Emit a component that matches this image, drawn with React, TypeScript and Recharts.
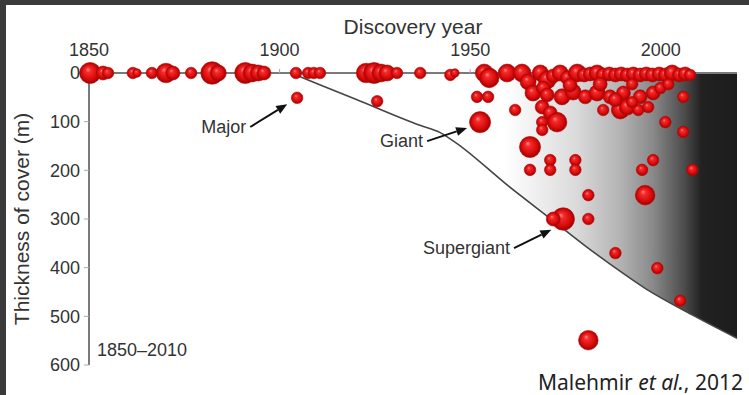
import {
    ComposedChart,
    Area,
    Scatter,
    XAxis,
    YAxis,
    ZAxis,
    ReferenceLine
} from "recharts";

// cover-thickness limit of exploration (discovery year vs. depth)
const coverYears = [1903, 1920, 1937, 1942, 1946, 1960, 1972, 1980, 1988, 1996, 2008, 2020];
const coverDepth = [0, 54, 108, 122, 142, 232, 305, 354, 400, 443, 496, 545];

// deposits: discovery year, depth of cover (m), relative size
const depositYears = [
    1850.3, 1853.7, 1855, 1861.5, 1862.6, 1866.5, 1870.2, 1872, 1876.8, 1882.3, 1883.9,
    1891, 1892.8, 1894.4, 1895.9, 1904.3, 1907.5, 1909, 1910.6, 1922.7, 1924.8, 1926.6,
    1928.2, 1930.8, 1936.9, 1944.8, 1946, 1953.7, 1955, 1959.7, 1963.6, 1965.2, 1968.4,
    1970.2, 1971.8, 1973.6, 1975.5, 1978.1, 1979.9, 1981.5, 1983.3, 1984.9, 1986.5,
    1988.1, 1989.6, 1991.2, 1992.8, 1994.6, 1996.2, 1997.8, 1999.6, 2001.2, 2003,
    2004.9, 2006.4, 2007.7,
    1966.5, 1969.2, 1970.2, 1974.1, 1977, 1980.2, 1983.3, 1986.7, 1990.2, 1994.6, 1998,
    1999.9, 1976.2, 1984.1, 1992.5, 2002, 1961.8, 1951.8, 1954.7, 1925.6, 1904.6, 1952.6,
    1968.9, 1971, 1968.9, 1968.9, 1972.8, 1965.7, 1971, 1971, 1965.7, 1977.6, 1977.6,
    1981, 1974.4, 1971.8, 1981, 1988.1, 1999.1, 2005.1, 1981, 1995.1, 1998, 1995.9,
    2008.3, 2005.9, 2001.2, 2005.9, 1984.9, 1989.4, 1991.2, 1994.1, 1996.7, 1992.5, 1988.1
];
const depositDepth = [
    0, 0, 0, 0, 0, 0, 0, 0, 0, 0, 0,
    0, 0, 0, 0, 0, 0, 0, 0, 0, 0, 0,
    0, 0, 0, 4, 0, 0, 10, 0, 0, 18, 0,
    14, 6, 0, 10, 0, 4, 2, 0, 4, 2,
    4, 2, 4, 2, 4, 2, 4, 2, 4, 0,
    4, 2, 4,
    41, 31, 45, 49, 39, 49, 41, 49, 41, 49, 41,
    31, 25, 23, 23, 23, 76, 49, 49, 58, 51, 101,
    70, 82, 101, 117, 101, 152, 179, 199, 199, 179, 199,
    251, 300, 300, 300, 370, 401, 468, 549, 199, 179, 251,
    199, 121, 101, 49, 76, 76, 70, 76, 70, 60, 55
];
const depositSize = [
    10, 6, 5, 5, 4, 5, 9, 6, 5, 11, 7,
    10, 8, 7, 6, 5, 5, 5, 5, 9, 10, 8,
    7, 5, 5, 5, 4, 8, 9, 8, 8, 7, 7,
    8, 6, 7, 6, 8, 6, 6, 7, 6, 6,
    6, 6, 6, 6, 6, 6, 6, 6, 6, 7,
    6, 6, 5,
    7, 6, 6, 7, 7, 6, 7, 6, 6, 6, 6,
    5, 6, 6, 5, 5, 5, 5, 5, 5, 5, 10,
    6, 6, 5, 5, 9, 10, 5, 5, 5, 5, 5,
    5, 11, 6, 5, 5, 5, 5, 9, 5, 5, 9,
    5, 5, 5, 5, 5, 8, 7, 5, 5, 5, 6
];

const xTicks = [1850, 1900, 1950, 2000];
const yTicks = [0, 100, 200, 300, 400, 500, 600];

const curveData = coverYears.map((year, i) => ({ year, depth: coverDepth[i] }));
const deposits = depositYears.map((year, i) => ({
    year,
    depth: depositDepth[i],
    size: depositSize[i]
}));

const font = "'Liberation Sans', Arial, Helvetica, sans-serif";

const Sphere = (props: any) => {
    const { cx, cy, width } = props;
    return (
        <circle
            cx={cx}
            cy={cy}
            r={width / 2}
            fill="url(#sphereFill)"
            stroke="#b80808"
            strokeWidth={0.6}
        />
    );
};

// arrow with its label at the tail
const arrowShape = (label: string) => (props: any) => {
    const { x1, y1, x2, y2 } = props;
    const ang = Math.atan2(y2 - y1, x2 - x1);
    const len = 11;
    const w = 4.5;
    const bx = x2 - len * Math.cos(ang);
    const by = y2 - len * Math.sin(ang);
    const p1 = `${bx + w * Math.sin(ang)},${by - w * Math.cos(ang)}`;
    const p2 = `${bx - w * Math.sin(ang)},${by + w * Math.cos(ang)}`;
    return (
        <g>
            <line x1={x1} y1={y1} x2={bx} y2={by} stroke="#111" strokeWidth={2} />
            <polygon points={`${x2},${y2} ${p1} ${p2}`} fill="#111" />
            <text
                x={x1 - 4}
                y={y1 + 6}
                textAnchor="end"
                fontSize={18}
                fontFamily={font}
                fill="#333"
            >
                {label}
            </text>
        </g>
    );
};

export default function App() {
    return (
        <div
            style={{
                position: "relative",
                width: 749,
                height: 395,
                background: "#3b3b3b",
                overflow: "hidden"
            }}
        >
            <style>{"body{margin:0}"}</style>
            <div
                style={{
                    position: "absolute",
                    left: 6,
                    top: 5,
                    right: 0,
                    bottom: 0,
                    background: "#fff"
                }}
            />
            <div style={{ position: "absolute", left: 0, top: 0 }}>
                <ComposedChart
                    width={749}
                    height={395}
                    data={curveData}
                    margin={{ top: 43, right: 12, left: 29, bottom: 30 }}
                >
                    <defs>
                        <radialGradient id="sphereFill" cx="50%" cy="50%" r="50%" fx="38%" fy="32%">
                            <stop offset="0%" stopColor="#ff8a8a" />
                            <stop offset="25%" stopColor="#f52a2a" />
                            <stop offset="70%" stopColor="#d80c0c" />
                            <stop offset="100%" stopColor="#a00000" />
                        </radialGradient>
                        <linearGradient id="coverFill" x1="0" y1="0" x2="1" y2="0">
                            <stop offset="0%" stopColor="#ffffff" />
                            <stop offset="48%" stopColor="#ffffff" />
                            <stop offset="64%" stopColor="#dadada" />
                            <stop offset="74%" stopColor="#b2b2b2" />
                            <stop offset="81%" stopColor="#8a8a8a" />
                            <stop offset="88%" stopColor="#4e4e4e" />
                            <stop offset="92%" stopColor="#222222" />
                            <stop offset="100%" stopColor="#1c1c1c" />
                        </linearGradient>
                    </defs>
                    <XAxis
                        dataKey="year"
                        type="number"
                        orientation="top"
                        domain={[1850, 2020]}
                        ticks={xTicks}
                        height={30}
                        tickSize={4}
                        tickMargin={13}
                        tick={{ fontSize: 18, fill: "#333", fontFamily: font }}
                        axisLine={{ stroke: "#7a7a7a", strokeWidth: 2 }}
                        tickLine={{ stroke: "#aaa" }}
                        label={{
                            value: "Discovery year",
                            position: "top",
                            offset: 9,
                            fontSize: 21,
                            fill: "#333",
                            fontFamily: font
                        }}
                    />
                    <XAxis
                        xAxisId="frame"
                        type="number"
                        orientation="bottom"
                        domain={[1850, 2020]}
                        height={0}
                        tick={false}
                        tickLine={false}
                        axisLine={{ stroke: "#7a7a7a", strokeWidth: 2 }}
                    />
                    <YAxis
                        type="number"
                        reversed
                        domain={[0, 600]}
                        ticks={yTicks}
                        width={60}
                        tickSize={5}
                        tickMargin={4}
                        tick={{ fontSize: 18, fill: "#333", fontFamily: font }}
                        axisLine={{ stroke: "#7a7a7a", strokeWidth: 2 }}
                        tickLine={{ stroke: "#aaa" }}
                        label={{
                            value: "Thickness of cover (m)",
                            angle: -90,
                            position: "insideLeft",
                            offset: -7,
                            fontSize: 21,
                            fill: "#333",
                            fontFamily: font,
                            style: { textAnchor: "middle" }
                        }}
                    />
                    <YAxis
                        yAxisId="frame"
                        type="number"
                        orientation="right"
                        reversed
                        domain={[0, 600]}
                        width={0}
                        tick={false}
                        tickLine={false}
                        axisLine={{ stroke: "#8a8a8a", strokeWidth: 2 }}
                    />
                    <ZAxis dataKey="size" type="number" domain={[4, 11]} range={[56, 400]} />
                    <Area
                        dataKey="depth"
                        type="monotone"
                        stroke="#454545"
                        strokeWidth={1.6}
                        fill="url(#coverFill)"
                        fillOpacity={1}
                        isAnimationActive={false}
                    />
                    <ReferenceLine
                        segment={[{ x: 1892.3, y: 111 }, { x: 1902, y: 64 }]}
                        shape={arrowShape("Major")}
                    />
                    <ReferenceLine
                        segment={[{ x: 1938.7, y: 140 }, { x: 1949.2, y: 113 }]}
                        shape={arrowShape("Giant")}
                    />
                    <ReferenceLine
                        segment={[{ x: 1961.5, y: 360 }, { x: 1971.3, y: 322 }]}
                        shape={arrowShape("Supergiant")}
                    />
                    <Scatter
                        data={deposits}
                        dataKey="depth"
                        shape={Sphere}
                        isAnimationActive={false}
                    />
                </ComposedChart>
            </div>
            <div
                style={{
                    position: "absolute",
                    left: 97,
                    top: 340,
                    fontSize: 18,
                    fontFamily: font,
                    color: "#333"
                }}
            >
                1850–2010
            </div>
            <div
                style={{
                    position: "absolute",
                    right: 6,
                    top: 371,
                    fontSize: 21,
                    lineHeight: "23px",
                    fontFamily: "'Noto Sans', sans-serif",
                    color: "#222",
                    whiteSpace: "nowrap"
                }}
            >
                Malehmir <i>et al.</i>, 2012
            </div>
        </div>
    );
}
